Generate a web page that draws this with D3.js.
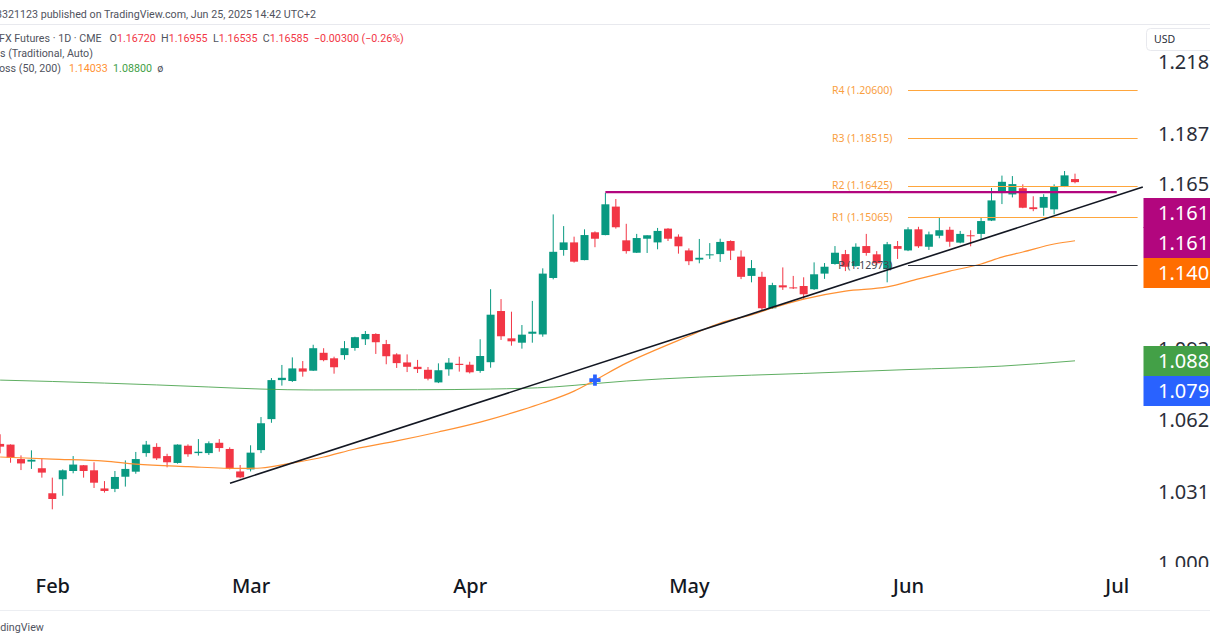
<!DOCTYPE html>
<html><head><meta charset="utf-8">
<script src="https://cdn.jsdelivr.net/npm/d3@7"></script>
<style>html,body{margin:0;padding:0;background:#fff;overflow:hidden}svg{display:block}text{font-family:"Noto Sans",sans-serif}</style>
</head><body><div id="chart"></div>
<script>
// bars run from session -5 to session 98; session 0 is Feb 3 2025
const firstBar = -5;
const opens = [1.0518,1.0515,1.0452,1.0441,1.0412,1.0303,1.0364,1.0400,1.0425,1.0403,1.0324,1.0322,1.0375,1.0397,1.0478,1.0505,1.0465,1.0435,1.0510,1.0478,1.0478,1.0523,1.0496,1.0398,
1.0407,1.0491,1.0626,1.0796,1.0792,1.0847,1.0837,1.0915,1.0891,1.0905,1.0936,1.0974,1.0997,1.0953,1.0908,1.0873,1.0854,1.0841,1.0786,1.0843,1.0867,1.0863,
1.0836,1.0874,1.1097,1.0978,1.0959,1.0998,1.0995,1.1241,1.1363,1.1396,1.1319,1.1440,1.1428,1.1552,1.1405,1.1351,1.1412,1.1396,1.1456,1.1421,1.1361,1.1321,1.1341,1.1345,1.1402,1.1334,1.1250,1.1246,1.1109,1.1209,1.1200,1.1206,1.1192,1.1260,1.1302,1.1345,1.1293,1.1380,1.1344,1.1279,1.1380,1.1361,1.1453,1.1377,1.1425,1.1451,1.1395,1.1427,1.1433,1.1491,1.1611,1.1605,1.1632,1.1549,1.1547,1.1540,1.1639,1.1672];
const highs = [1.0560,1.0516,1.0468,1.0490,1.0455,1.0371,1.0407,1.0465,1.0426,1.0438,1.0356,1.0400,1.0446,1.0483,1.0531,1.0521,1.0475,1.0516,1.0516,1.0539,1.0529,1.0539,1.0503,1.0426,
1.0512,1.0635,1.0805,1.0862,1.0895,1.0879,1.0950,1.0935,1.0898,1.0966,1.0985,1.1010,1.1000,1.0971,1.0913,1.0908,1.0884,1.0853,1.0869,1.0892,1.0898,1.0876,
1.0974,1.1192,1.1149,1.1094,1.1036,1.1141,1.1283,1.1518,1.1467,1.1421,1.1453,1.1444,1.1612,1.1585,1.1477,1.1433,1.1427,1.1459,1.1458,1.1431,1.1370,1.1411,1.1393,1.1412,1.1405,1.1361,1.1319,1.1268,1.1220,1.1287,1.1250,1.1244,1.1309,1.1306,1.1380,1.1363,1.1392,1.1433,1.1358,1.1398,1.1402,1.1462,1.1464,1.1443,1.1504,1.1464,1.1446,1.1449,1.1505,1.1633,1.1687,1.1685,1.1649,1.1597,1.1606,1.1649,1.1707,1.16955];
const lows = [1.0477,1.0436,1.0404,1.0409,1.0371,1.0233,1.0292,1.0390,1.0371,1.0326,1.0306,1.0308,1.0332,1.0388,1.0462,1.0448,1.0416,1.0432,1.0462,1.0467,1.0470,1.0484,1.0407,1.0368,
1.0398,1.0478,1.0610,1.0772,1.0788,1.0811,1.0836,1.0878,1.0824,1.0885,1.0924,1.0949,1.0910,1.0865,1.0849,1.0831,1.0827,1.0795,1.0783,1.0815,1.0833,1.0825,
1.0828,1.0850,1.0971,1.0946,1.0933,1.0959,1.0985,1.1235,1.1338,1.1308,1.1318,1.1375,1.1427,1.1456,1.1347,1.1350,1.1350,1.1366,1.1402,1.1347,1.1297,1.1305,1.1324,1.1311,1.1319,1.1236,1.1222,1.1098,1.1106,1.1189,1.1193,1.1149,1.1189,1.1237,1.1299,1.1271,1.1290,1.1338,1.1297,1.1222,1.1324,1.1358,1.1372,1.1363,1.1414,1.1377,1.1392,1.1379,1.1411,1.1489,1.1563,1.1592,1.1545,1.1532,1.1512,1.1518,1.1637,1.16535];
const closes = [1.0506,1.0458,1.0433,1.0449,1.0393,1.0278,1.0403,1.0428,1.0400,1.0349,1.0313,1.0374,1.0409,1.0452,1.0515,1.0455,1.0438,1.0515,1.0473,1.0484,1.0521,1.0500,1.0410,1.0372,
1.0480,1.0608,1.0796,1.0806,1.0847,1.0833,1.0935,1.0883,1.0852,1.0935,1.0983,1.0997,1.0961,1.0900,1.0870,1.0854,1.0844,1.0802,1.0839,1.0872,1.0862,1.0830,
1.0901,1.1081,1.0987,1.0965,1.0994,1.1007,1.1260,1.1355,1.1396,1.1312,1.1428,1.1412,1.1562,1.1462,1.1358,1.1415,1.1427,1.1446,1.1412,1.1379,1.1314,1.1329,1.1344,1.1398,1.1360,1.1246,1.1284,1.1109,1.1210,1.1200,1.1197,1.1170,1.1257,1.1290,1.1351,1.1290,1.1377,1.1350,1.1305,1.1388,1.1368,1.1453,1.1379,1.1431,1.1449,1.1399,1.1433,1.1424,1.1489,1.1579,1.1660,1.1650,1.1547,1.1541,1.1594,1.1639,1.1688,1.16585];

const ma50Bars = [-5,0,5,8,13,18,20,23,26,29,33,37,41,45,47,50,52,55,58,61,64,67,69,72,76,80,83,86,89,91,93,96,98];
const ma50Vals = [1.0461,1.0452,1.0443,1.0430,1.0419,1.0411,1.0413,1.0435,1.0461,1.0496,1.0531,1.0570,1.0613,1.0666,1.0696,1.0748,1.0796,1.0870,1.0931,1.0988,1.1045,1.1080,1.1110,1.1149,1.1184,1.1202,1.1237,1.1271,1.1302,1.1332,1.1354,1.1389,1.14033];
const ma200Bars = [-5,0,5,10,15,20,25,35,42,48,52,55,62,72,82,91,98];
const ma200Vals = [1.0796,1.0790,1.0783,1.0775,1.0766,1.0757,1.0753,1.0754,1.0757,1.0766,1.0781,1.0792,1.0809,1.0825,1.0842,1.0857,1.0880];

const pivotNames = ["R4","R3","R2","R1","P"];
const pivotVals = [1.206,1.18515,1.16425,1.15065,1.12973];
const pivotStartBar = 82, pivotEndBar = 104;

const trendBars = [17.03,104.5];
const trendVals = [1.0347,1.1637];
const resistBars = [53,102];
const resistVal = 1.1615;
const crossBar = 52, crossVal = 1.0796;

const monthBars = [0,19,40,61,82,102];
const monthLabels = ["Feb","Mar","Apr","May","Jun","Jul"];
const priceTicks = [1.218,1.187,1.165,1.093,1.062,1.031,1.000];
const tagVals = [1.1615,1.1615,1.14033,1.088,1.0796];
const tagTexts = ["1.161","1.161","1.140","1.088","1.079"];
const tagColors = ["#b2067e","#b2067e","#ff6d00","#43a047","#2962ff"];

const W=1210,H=642;
const x=d3.scaleLinear().domain([0,98]).range([52.3,1075]);
const y=d3.scaleLinear().domain([1.0,1.206]).range([562.8,90]);
const svg=d3.select("#chart").append("svg").attr("width",W).attr("height",H);
svg.append("rect").attr("width",W).attr("height",H).attr("fill","#fff");

// frame rules
svg.append("line").attr("x1",0).attr("x2",W).attr("y1",24.5).attr("y2",24.5).attr("stroke","#e8e9ee");
svg.append("line").attr("x1",0).attr("x2",W).attr("y1",610.5).attr("y2",610.5).attr("stroke","#eceef2");

// candles
const bars=d3.range(opens.length).map(k=>({b:k+firstBar,o:opens[k],h:highs[k],l:lows[k],c:closes[k]}));
const col=d=>d.c>=d.o?"#089981":"#f23645";
const gC=svg.append("g");
gC.selectAll("line").data(bars).join("line")
 .attr("x1",d=>x(d.b)).attr("x2",d=>x(d.b)).attr("y1",d=>y(d.h)).attr("y2",d=>y(d.l))
 .attr("stroke",col).attr("stroke-width",1);
gC.selectAll("rect").data(bars).join("rect")
 .attr("x",d=>x(d.b)-4).attr("width",8)
 .attr("y",d=>y(Math.max(d.o,d.c))).attr("height",d=>Math.max(1,Math.abs(y(d.o)-y(d.c))))
 .attr("fill",col);

// moving averages
const line=d3.line().x(d=>x(d[0])).y(d=>y(d[1])).curve(d3.curveMonotoneX);
svg.append("path").attr("d",line(d3.zip(ma200Bars,ma200Vals))).attr("fill","none").attr("stroke","#43a047").attr("stroke-width",1).attr("opacity",.85);
svg.append("path").attr("d",line(d3.zip(ma50Bars,ma50Vals))).attr("fill","none").attr("stroke","#ff9133").attr("stroke-width",1.2);

// pivots
const gP=svg.append("g");
pivotVals.forEach((v,k)=>{
  const c=pivotNames[k]==="P"?"#2a2e39":"#ffa63d";
  gP.append("line").attr("x1",x(pivotStartBar)).attr("x2",x(pivotEndBar)).attr("y1",Math.round(y(v))+.5).attr("y2",Math.round(y(v))+.5).attr("stroke",c).attr("stroke-width",1);
  gP.append("text").attr("x",892.5).attr("y",y(v)).attr("dy","0.35em").attr("text-anchor","end").attr("font-size",10.5).attr("fill",pivotNames[k]==="P"?"#43464f":"#f9a03f")
    .text(`${pivotNames[k]} (${v.toFixed(5)})`);
});

// drawings
svg.append("line").attr("x1",x(resistBars[0])).attr("x2",x(resistBars[1])).attr("y1",y(resistVal)).attr("y2",y(resistVal)).attr("stroke","#b2067e").attr("stroke-width",2.4);
svg.append("line").attr("x1",x(trendBars[0])).attr("x2",x(trendBars[1])).attr("y1",y(trendVals[0])).attr("y2",y(trendVals[1])).attr("stroke","#131722").attr("stroke-width",1.6);
svg.append("path").attr("transform",`translate(${x(crossBar)},${y(crossVal)})`).attr("d",d3.symbol(d3.symbolCross,70)()).attr("fill","#2962ff");

// price axis
const axY=svg.append("g").attr("transform","translate(1158,0)").call(d3.axisRight(y).tickValues(priceTicks).tickSize(0).tickPadding(0).tickFormat(d3.format(".3f")));
axY.select(".domain").remove();
axY.selectAll("text").attr("font-size",20).attr("fill","#2a2e39").style("font-family",'"Noto Sans",sans-serif');
// clip at the time-axis boundary
svg.append("rect").attr("x",1140).attr("y",567).attr("width",70).attr("height",30).attr("fill","#fff");

// last value tags, stacked so they do not overlap
const tagNudge=[21,0,0,0,0];
let prev=-Infinity;
tagVals.forEach((v,k)=>{
  const cy=Math.round(Math.max(prev+30,y(v)+tagNudge[k])); prev=cy;
  const same=k>0&&tagColors[k]===tagColors[k-1];
  svg.append("rect").attr("x",1143.5).attr("y",cy-15-(same?1:0)).attr("width",67).attr("height",30+(same?1:0)).attr("fill",tagColors[k]);
  svg.append("text").attr("x",1158).attr("y",cy).attr("dy","0.35em").attr("font-size",20).attr("fill","#fff").text(tagTexts[k]);
});

// USD
svg.append("rect").attr("x",1146.5).attr("y",28.5).attr("width",80).attr("height",22).attr("rx",4).attr("fill","#fff").attr("stroke","#e8e9ee");
svg.append("text").attr("x",1154).attr("y",39.5).attr("dy","0.35em").attr("font-size",10.5).attr("fill","#2a2e39").text("USD");

// time axis
const axX=svg.append("g").attr("transform","translate(0,586)").call(d3.axisBottom(x).tickValues(monthBars).tickSize(0).tickPadding(0).tickFormat((d,k)=>monthLabels[k]));
axX.select(".domain").remove();
axX.selectAll("text").attr("y",0).attr("dy","0.35em").attr("font-size",20).attr("font-weight",500).attr("fill","#131722").style("font-family",'"Noto Sans",sans-serif');

// header and legend
const grey="#50535e", red="#f23645", legendFont="Roboto,sans-serif", legendSize=10.7;
const legendText=(px,py)=>svg.append("text").attr("x",px).attr("y",py).attr("dy","0.35em").attr("font-size",legendSize).attr("fill",grey).style("font-family",legendFont).attr("xml:space","preserve");
legendText(-4,14).text("3321123 published on TradingView.com, Jun 25, 2025 14:42 UTC+2");
const L1=legendText(-1,38);
[["FX Futures · 1D · CME   O",grey],["1.16720",red],["  H",grey],["1.16955",red],["  L",grey],["1.16535",red],["  C",grey],["1.16585",red],["  −0.00300 (−0.26%)",red]].forEach(([t,c])=>L1.append("tspan").attr("fill",c).text(t));
legendText(0,53).text("s (Traditional, Auto)");
const L3=legendText(-1,68);
[["oss (50, 200)   ",grey],["1.14033",'#ff9133'],["  ",grey],["1.08800",'#43a047'],["  ø",grey]].forEach(([t,c])=>L3.append("tspan").attr("fill",c).text(t));
legendText(-15,627).text("TradingView");
</script></body></html>
